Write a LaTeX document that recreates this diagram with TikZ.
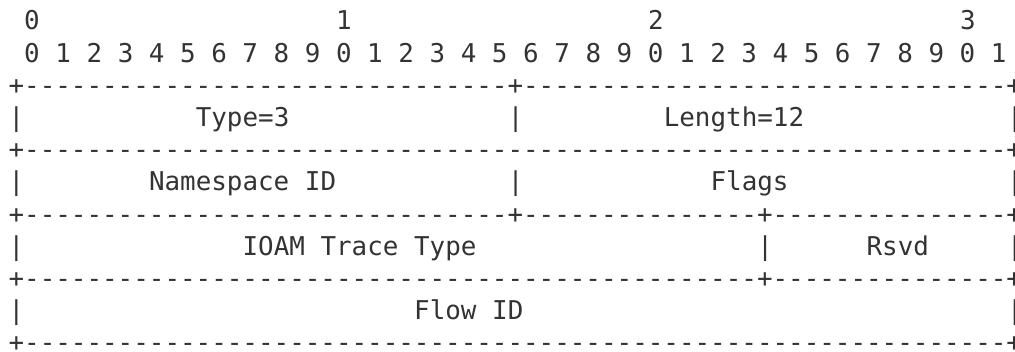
\documentclass[tikz,border=0pt]{standalone}
\usepackage{fontspec}
\setmonofont{DejaVu Sans Mono}
\definecolor{txt}{HTML}{333333}
\newcommand\dsh[1]{\foreach\i in {1,...,#1}{-}}
\tikzset{
  ch/.style={anchor=base west, inner sep=0pt, outer sep=0pt, text=txt,
    font=\fontsize{25.9}{30}\selectfont\ttfamily},
}
% column c, line k
\newcommand\pos[2]{({8.6+15.6*#1},{352-30-32.2*#2})}
\begin{document}
\begin{tikzpicture}[x=1pt,y=1pt]
\useasboundingbox (0,0) rectangle (1015,352);
\clip (0,0) rectangle (1015,352);
% bit ruler
\node[ch] (t0) at \pos{1}{0} {0};
\node[ch] (t1) at \pos{21}{0} {1};
\node[ch] (t2) at \pos{41}{0} {2};
\node[ch] (t3) at \pos{61}{0} {3};
\node[ch] (bits) at \pos{1}{1} {0 1 2 3 4 5 6 7 8 9 0 1 2 3 4 5 6 7 8 9 0 1 2 3 4 5 6 7 8 9 0 1};
% borders
\node[ch] (b2) at \pos{0}{2} {+\dsh{31}+\dsh{31}+};
\node[ch] (b4) at \pos{0}{4} {+\dsh{63}+};
\node[ch] (b6) at \pos{0}{6} {+\dsh{31}+\dsh{15}+\dsh{15}+};
\node[ch] (b8) at \pos{0}{8} {+\dsh{47}+\dsh{15}+};
\node[ch] (b10) at \pos{0}{10} {+\dsh{63}+};
% row 1
\node[ch] (v3a) at \pos{0}{3} {|};
\node[ch] (type) at \pos{12}{3} {Type=3};
\node[ch] (v3b) at \pos{32}{3} {|};
\node[ch] (len) at \pos{42}{3} {Length=12};
\node[ch] (v3c) at \pos{64}{3} {|};
% row 2
\node[ch] (v5a) at \pos{0}{5} {|};
\node[ch] (ns) at \pos{9}{5} {Namespace ID};
\node[ch] (v5b) at \pos{32}{5} {|};
\node[ch] (flags) at \pos{45}{5} {Flags};
\node[ch] (v5c) at \pos{64}{5} {|};
% row 3
\node[ch] (v7a) at \pos{0}{7} {|};
\node[ch] (ioam) at \pos{15}{7} {IOAM Trace Type};
\node[ch] (v7b) at \pos{48}{7} {|};
\node[ch] (rsvd) at \pos{55}{7} {Rsvd};
\node[ch] (v7c) at \pos{64}{7} {|};
% row 4
\node[ch] (v9a) at \pos{0}{9} {|};
\node[ch] (flow) at \pos{26}{9} {Flow ID};
\node[ch] (v9c) at \pos{64}{9} {|};
\end{tikzpicture}
\end{document}
